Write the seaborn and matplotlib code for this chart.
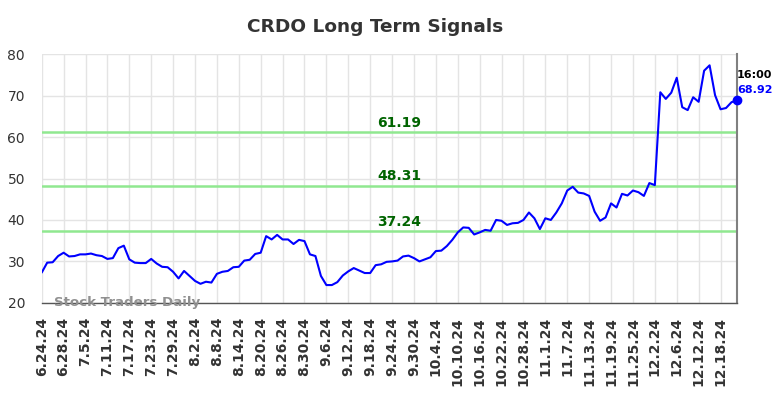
import numpy as np
import pandas as pd
import matplotlib
matplotlib.use("Agg")
import matplotlib.pyplot as plt
import seaborn as sns

tick_labels = [
    "6.24.24", "6.28.24", "7.5.24", "7.11.24", "7.17.24", "7.23.24",
    "7.29.24", "8.2.24", "8.8.24", "8.14.24", "8.20.24", "8.26.24",
    "8.30.24", "9.6.24", "9.12.24", "9.18.24", "9.24.24", "9.30.24",
    "10.4.24", "10.10.24", "10.16.24", "10.22.24", "10.28.24", "11.1.24",
    "11.7.24", "11.13.24", "11.19.24", "11.25.24", "12.2.24", "12.6.24",
    "12.12.24", "12.18.24"
]

# closing prices, one per trading day
prices = [
    27.3, 29.7, 29.8, 31.3, 32.1, 31.2, 31.3, 31.7, 31.7, 31.9,
    31.5, 31.3, 30.6, 30.8, 33.2, 33.8, 30.5, 29.7, 29.6, 29.6,
    30.6, 29.5, 28.7, 28.6, 27.5, 25.9, 27.7, 26.5, 25.3, 24.6,
    25.1, 24.9, 27.0, 27.5, 27.7, 28.6, 28.7, 30.2, 30.4, 31.8,
    32.1, 36.1, 35.3, 36.4, 35.3, 35.3, 34.2, 35.2, 34.9, 31.7,
    31.3, 26.5, 24.3, 24.3, 25.0, 26.6, 27.6, 28.4, 27.8, 27.2,
    27.2, 29.1, 29.3, 29.9, 30.0, 30.2, 31.2, 31.4, 30.8, 30.0,
    30.5, 31.0, 32.5, 32.6, 33.7, 35.2, 37.0, 38.2, 38.1, 36.5,
    37.0, 37.6, 37.4, 40.0, 39.8, 38.8, 39.2, 39.3, 40.0, 41.8,
    40.4, 37.8, 40.4, 40.0, 41.8, 44.0, 47.1, 48.0, 46.6, 46.4,
    45.8, 42.0, 39.8, 40.6, 44.0, 43.0, 46.3, 45.9, 47.1, 46.7,
    45.8, 48.9, 48.4, 70.8, 69.2, 70.7, 74.3, 67.2, 66.5, 69.6,
    68.5, 76.0, 77.3, 70.1, 66.7, 67.0, 68.4, 68.92
]

signal_levels = [61.19, 48.31, 37.24]

last_time = "16:00"


def run_signal_chart():

    sns.set_style("white")

    df = pd.DataFrame({
        "day": np.arange(len(prices)),
        "price": prices
    })

    fig = plt.figure(
        figsize=(7.84, 3.98),
        dpi=100
    )

    ax = fig.add_axes([0.0532, 0.239, 0.8868, 0.625])

    for level in signal_levels:

        ax.axhline(
            level,
            color="#90e890",
            linewidth=1.8,
            zorder=2
        )

        ax.text(
            65.3,
            level + 0.5,
            f"{level:.2f}",
            color="#006400",
            fontsize=10,
            fontweight="bold",
            ha="center",
            va="bottom",
            zorder=4
        )

    sns.lineplot(
        data=df,
        x="day",
        y="price",
        color="blue",
        linewidth=1.5,
        ax=ax,
        zorder=3
    )

    last_day = len(prices) - 1

    ax.scatter(
        [last_day],
        [prices[-1]],
        color="blue",
        s=36,
        zorder=5,
        clip_on=False
    )

    ax.text(
        last_day,
        74.9,
        last_time,
        color="black",
        fontsize=8,
        fontweight="bold",
        ha="left",
        va="center",
        clip_on=False
    )

    ax.text(
        last_day,
        71.3,
        f"{prices[-1]:.2f}",
        color="blue",
        fontsize=8,
        fontweight="bold",
        ha="left",
        va="center",
        clip_on=False
    )

    ax.text(
        2.2,
        20.2,
        "Stock Traders Daily",
        color="#909090",
        fontsize=9.6,
        fontweight="bold",
        ha="left",
        va="center",
        zorder=6
    )

    ax.set_xlim(0, last_day)
    ax.set_ylim(20, 80)

    ax.set_xticks(np.arange(0, len(tick_labels) * 4, 4))
    ax.set_xticklabels(
        tick_labels,
        rotation=90,
        fontsize=10,
        fontweight="bold",
        color="#333333"
    )

    ax.set_yticks(range(20, 81, 10))
    ax.tick_params(axis="y", labelsize=10, labelcolor="#333333", length=0, pad=12)
    ax.tick_params(axis="x", length=0, pad=10)

    ax.set_xlabel("")
    ax.set_ylabel("")

    ax.grid(color="#e4e4e4", linewidth=1)
    ax.set_axisbelow(True)

    ax.spines["left"].set_visible(False)
    ax.spines["top"].set_visible(False)
    ax.spines["bottom"].set_color("#555555")
    ax.spines["bottom"].set_linewidth(1)
    ax.spines["right"].set_color("#808080")
    ax.spines["right"].set_linewidth(1.5)

    fig.text(
        0.479,
        0.932,
        "CRDO Long Term Signals",
        ha="center",
        va="center",
        fontsize=13.3,
        fontweight="bold",
        color="#333333"
    )

    fig.savefig("out.png", dpi=100)

    plt.close(fig)


if __name__ == "__main__":

    run_signal_chart()
